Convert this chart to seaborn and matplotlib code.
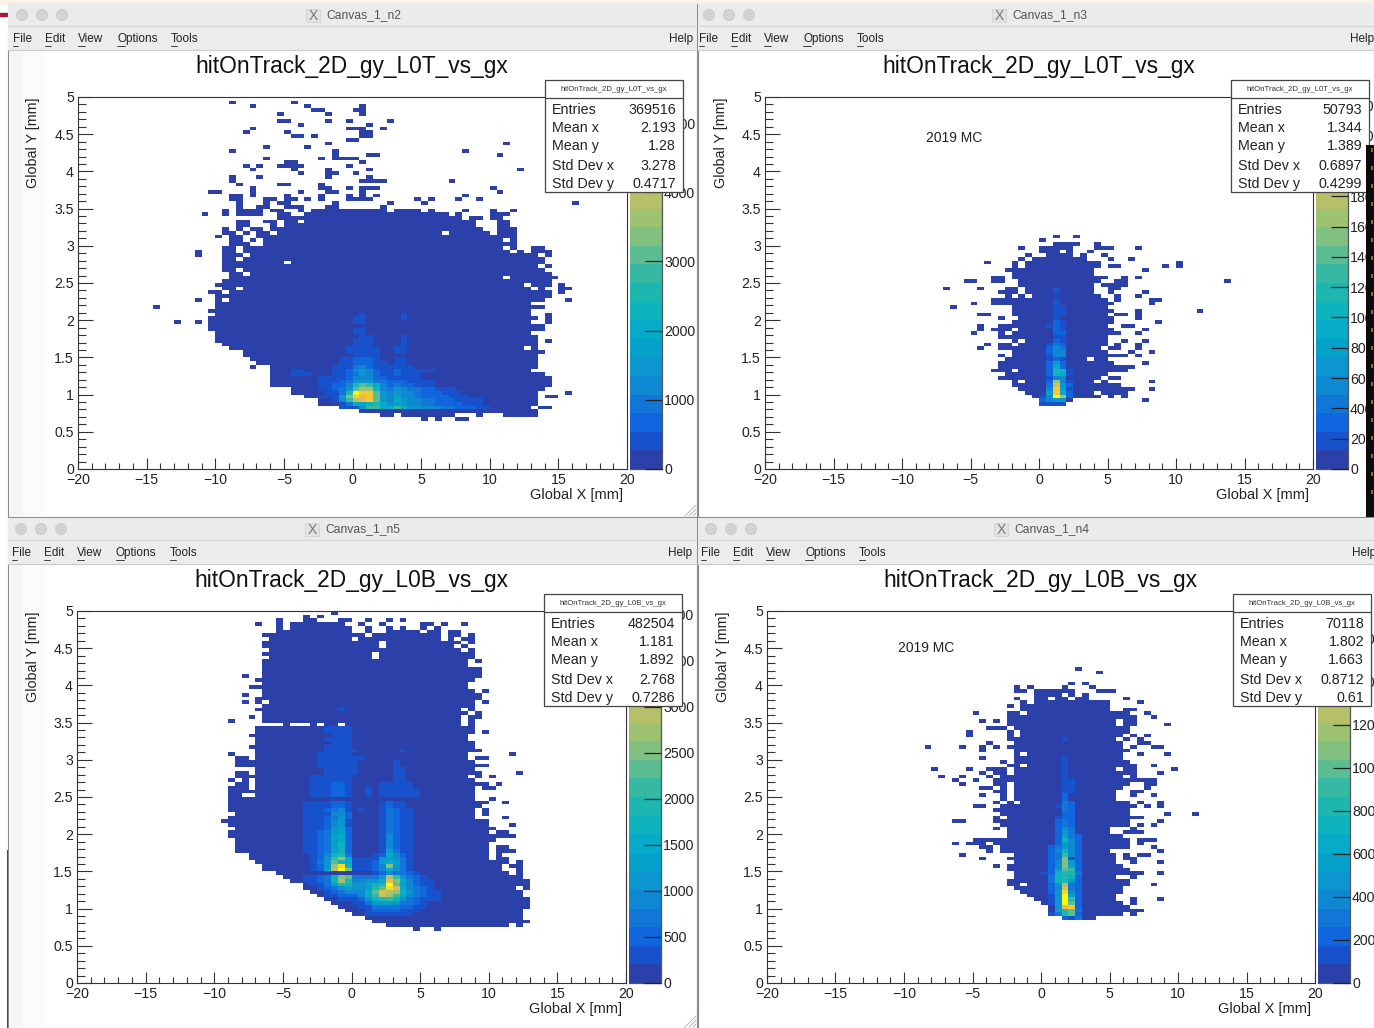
import matplotlib
matplotlib.use("Agg")
import matplotlib.pyplot as plt
import matplotlib.patches as mpatches
from matplotlib.colors import ListedColormap
from matplotlib.ticker import FixedLocator
import numpy as np
import seaborn as sns


# =========================
# Data: hit rows
# (y bin, [x start, x end, x start, x end ...]) in mm, bins are 0.5 mm x 0.05 mm
# =========================

ROWS_L0T_DATA = [
    (13, [5, 5.5, 6, 6.5, 7.5, 8.5]), (14, [2, 3, 3.5, 7.5, 9, 9.5, 11, 13.5]), (15, [0.5, 13.5]),
    (16, [-1, 13, 13.5, 14.5]), (17, [-2.5, 13.5]), (18, [-2.5, 13.5]), (19, [-3.5, 13.5, 14, 15]),
    (20, [-4.5, 13.5, 15.5, 16]), (21, [-4.5, 14]), (22, [-6, 14.5]), (23, [-6, 14.5]), (24, [-6, 14.5]),
    (25, [-6, 14]), (26, [-6, 13]), (27, [-7.5, -7, -6, 13.5]), (28, [-7, 13.5]), (29, [-7.5, 13.5]),
    (30, [-8, 13.5]), (31, [-8, 14]), (32, [-9, 12.5, 13, 13.5]), (33, [-9.5, 13.5]),
    (34, [-10, 13.5, 14, 14.5]), (35, [-10, 13.5]), (36, [-10, 13]), (37, [-10.5, 14]), (38, [-10.5, 14]),
    (39, [-13, -12.5, -11.5, -11, -10.5, 13, 14, 14.5]), (40, [-10.5, 13.5, 14, 14.5]),
    (41, [-10, 13, 14, 14.5]), (42, [-10.5, 13]), (43, [-14.5, -14, -10, 14]), (44, [-10, 13]),
    (45, [-11.5, -11, -10, -9.5, -9, 14, 15.5, 16]), (46, [-10, 14.5]),
    (47, [-10.5, -9.5, -9, 14.5, 15, 15.5]), (48, [-9.5, -8.5, -8, 13, 13.5, 14, 15, 16]),
    (49, [-10, 12.5, 13, 14.5, 15, 15.5]), (50, [-9.5, 14.5]), (51, [-9, 11, 11.5, 14.5, 14.5, 15]),
    (52, [-9, -8, -7.5, 14.5]), (53, [-9.5, -8.5, -8, 14]), (54, [-9.5, 13.5, 14, 14.5]),
    (55, [-9.5, -5, -4.5, 14]), (56, [-9.5, -8.5, -8, 14]), (57, [-11.5, -11, -9.5, -8, -7.5, 13.5, 14, 14.5]),
    (58, [-11.5, -11, -9.5, -8.5, -8, 11.5, 12, 12.5, 13, 14.5]), (59, [-9.5, -8.5, -8, 11, 11.5, 12, 13, 14]),
    (60, [-9, -7.5, -6.5, 12]), (61, [-9, -8, -7.5, -7, -6.5, 11, 11.5, 12]), (62, [-10, -9.5, -9, -8, -7, 12]),
    (63, [-9.5, -8.5, -8, -7.5, -7, -6, -5.5, 6.5, 7, 10, 10.5, 12]),
    (64, [-9.5, -9, -8.5, -8, -7.5, -6.5, -6, 9.5, 10.5, 12]), (65, [-8.5, -7.5, -6, -5.5, -5, 9, 10.5, 11.5]),
    (66, [-8.5, -7.5, -6.5, -5.5, -5, -4, -3.5, 9, 10.5, 11.5]),
    (67, [-5.5, 8, 8.5, 9.5, 10, 11]), (68, [-11, -10.5, -9.5, -9, -8.5, -6.5, -5.5, -4.5, -3.5, 7, 7.5, 8, 10, 11.5]),
    (69, [-9.5, -9, -8.5, -6.5, -6, -5, -4, -3.5, -3, 2.5, 3, 5, 5.5, 6, 8, 8.5, 10, 10.5, 11.5, 12]),
    (70, [-8.5, -8, -7, -6, -5, -3.5, -2, -1, 2, 2.5]), (71, [-8.5, -8, -6.5, -6, -5.5, -4.5, -1.5, -1, 2.5, 3, 5, 5.5, 16, 16.5]),
    (72, [-9, -8, -6.5, -5.5, -5, -4, -3.5, -3, -2.5, -2, -0.5, 1.5, 4.5, 5, 5.5, 6, 7.5, 8, 9, 9.5]),
    (73, [-9, -8, -7.5, -7, -5, -4.5, -2.5, -2, -0.5, 0, 0.5, 1, 1.5, 2, 8, 8.5]),
    (74, [-10.5, -9.5, -7.5, -7, -4, -3.5, -2, -1, 0.5, 1, 10.5, 11]),
    (75, [-7.5, -7, -2.5, -1.5, -0.5, 0, 0.5, 2, 10, 10.5]), (76, [-8.5, -8, -5.5, -4.5, -2.5, -2]),
    (77, [-9, -8.5, 0.5, 2.5, 7, 7.5]), (78, [-9, -8.5, -7, -6.5, -2, -1.5, 1, 1.5]),
    (79, [-4, -3.5, -2, -1, 0, 0.5]), (80, [-7.5, -7, -4.5, -4, -2, -1.5, 1, 1.5, 12, 12.5]),
    (81, [-8, -7.5, -7, -6.5, -5.5, -3.5, -0.5, 0]), (82, [-5, -4, 0.5, 1]),
    (83, [-6.5, -6, -2.5, -2, -1.5, 0.5]), (84, [-1.5, -1, 1, 2, 10.5, 11]),
    (85, [-9, -8.5, -1.5, -1, 8, 8.5]), (86, [-6.5, -6, -3.5, -3]), (87, [-2, -1.5, 11, 11.5]),
    (88, [-0.5, 0.5]), (89, [-4.5, -3.5, -3, -2.5, 0.5, 1.5]), (90, [-8, -7.5, -5, -4.5, 0.5, 1.5]),
    (91, [-7.5, -7, -0.5, 1, 2, 2.5]), (92, [-4, -3.5, 1, 1.5]),
    (93, [-5.5, -4.5, -2, -1.5, -0.5, 0, 2.5, 3]), (95, [-5.5, -5, -2, -1.5, 0.5, 1]),
    (96, [-3, -2, 0, 1]), (97, [-7.5, -7, -3.5, -3, 0.5, 1]), (98, [-9, -8.5, -4.5, -4]),
]

ROWS_L0T_MC = [
    (17, [0, 2]), (18, [0, 2.5, 7.5, 8]), (19, [-0.5, 4.5, 5, 5.5, 6, 6.5]), (20, [-1, 4, 4.5, 6.5]),
    (21, [-1.5, 7, 8, 8.5]), (22, [-2, 6, 6.5, 6.5]), (23, [-2, -1.5, -1, 4, 4.5, 5, 8, 8.5]),
    (24, [-3, -2, -2, 4.5, 5, 6]), (25, [-2.5, 5]), (26, [-3.5, -2, -1.5, 6.5]),
    (27, [-3, 7]), (28, [-3, 5.5, 7.5, 8]), (29, [-2.5, 3.5, 4, 5]), (30, [-3, -2.5, -2, 6.5, 7, 7.5]),
    (31, [-2, 5, 6.5, 7, 8, 8.5]), (32, [-4.5, -4, -3, -2, -2, 4.5, 5, 6, 7, 7.5]),
    (33, [-4, -3.5, -3, -2, -1.5, 5, 5.5, 6, 7, 7.5]), (34, [-2, -1.5, -1, 5, 6, 6.5, 7.5, 8]),
    (35, [-3, 5]), (36, [-5, -4.5, -3, -2.5, -2, 6, 7, 7.5]),
    (37, [-4.5, -4, -3.5, -2, -1.5, 5.5, 7.5, 8]), (38, [-4.5, -4, -3, 5, 6, 7]),
    (39, [-2, 5.5, 8.5, 9]), (40, [-3, -2.5, -1.5, 5.5, 7, 7.5]),
    (41, [-4.5, -3.5, -2, 5, 5.5, 6.5, 7, 7.5]), (42, [-2, 5.5, 7, 7.5, 11.5, 12]),
    (43, [-6.5, -6, -2, 5]), (44, [-5, -4.5, -3.5, 5.5, 8, 8.5]), (45, [-3.5, 5, 5.5, 6, 8, 9]),
    (46, [-2.5, -2, -1.5, -1, -0.5, 4.5, 5.5, 6, 7, 7.5]), (47, [-3, -1.5, -1, 4, 5, 5.5, 7.5, 8]),
    (48, [-7, -6.5, -4.5, -4, -2.5, -1.5, -1, 4, 5, 6]), (49, [-1.5, 4, 4.5, 6.5]),
    (50, [-5.5, -4.5, -3.5, -2.5, -1.5, 4.5, 5.5, 6.5, 13.5, 14]), (51, [-3.5, -2.5, -2, 5, 6, 6.5, 7, 7.5]),
    (52, [-2, 4]), (53, [-2.5, 4, 7.5, 8]), (54, [-2, -1.5, -1, 4.5, 5, 6, 9, 9.5, 10, 10.5]),
    (55, [-4, -3.5, -2, -1.5, -1, 4, 4, 4.5, 10, 10.5]), (56, [-1.5, -1, -0.5, 3.5, 5, 5.5, 6.5, 7]),
    (57, [-1, -0.5, 0.5, 2.5, 3, 3.5, 4.5, 5]), (58, [0, 1.5, 2, 2.5, 3.5, 4]),
    (59, [-1.5, -1, 0, 2.5, 4, 5.5, 7, 7.5]), (60, [1, 3, 4, 4.5]), (61, [0, 0.5]), (62, [1, 1.5, 2.5, 3]),
]

ROWS_L0B_DATA = [
    (14, [4.5, 5, 6, 6.5]), (15, [2.5, 11.5, 12, 12.5]), (16, [1.5, 13]), (17, [1, 12.5]),
    (18, [0, 12.5]), (19, [-0.5, 12.5]), (20, [-1, 13]), (21, [-1.5, 13]), (22, [-2, 13]),
    (23, [-2.5, 12.5]), (24, [-3, 12.5]), (25, [-3.5, 12, 12.5, 13]), (26, [-3.5, 13]), (27, [-4.5, 13]),
    (28, [-5, 12.5]), (29, [-5.5, 11.5, 12, 12.5]), (30, [-6.5, 11, 12, 12.5]), (31, [-6.5, 11, 11.5, 12.5]),
    (32, [-7, 11.5, 12, 12.5]), (33, [-7.5, 10, 10.5, 11.5]), (34, [-7.5, 10, 10.5, 11]),
    (35, [-8.5, 10, 10.5, 12]), (36, [-8.5, 10, 10.5, 11.5]), (37, [-8.5, 10]), (38, [-8.5, 10.5]),
    (39, [-9, 12]), (40, [-9, 10, 10.5, 11.5]), (41, [-8.5, 10.5]), (42, [-9, 10, 11.5, 12]),
    (43, [-9.5, 10]), (44, [-9, 9, 11, 11.5]), (45, [-8.5, 9, 9.5, 10]), (46, [-9, 9, 9.5, 10]),
    (47, [-9, 9.5]), (48, [-9, 10, 11, 11.5]), (49, [-9, 9, 10, 10.5]), (50, [-9, -8, -7, 9]),
    (51, [-9, 9]), (52, [-9, -7.5, -7, 9, 9.5, 10.5]), (53, [-8.5, -7.5, -7, 10, 10.5, 11]),
    (54, [-9, -8.5, -8, -7.5, -7, 9]), (55, [-8.5, -7, -7, 8.5, 9, 9.5, 10, 10.5]),
    (56, [-8.5, -7.5, -7, 9.5, 12, 12.5]), (57, [-7, 9]), (58, [-8.5, 10]), (59, [-8.5, 9]),
    (60, [-8.5, -7.5, -7, 8.5, 9, 10]), (61, [-9, -8.5, -7, 8.5, 11.5, 12]), (62, [-7, 9.5]),
    (63, [-7.5, 9]), (64, [-7, 9]), (65, [-7, 8.5]), (66, [-7.5, 8.5]), (67, [-7, 9, 9.5, 10]),
    (68, [-7, 9]), (69, [-5, -4.5, -3, -2.5, -2, -1, -0.5, 8, 8.5, 9]), (70, [-9, -8.5, -6.5, 8, 8.5, 9]),
    (71, [-7.5, -7, -6.5, 8, 8.5, 9.5]), (72, [-6.5, 8.5, 9, 9.5]), (73, [-7, 8, 8.5, 9]),
    (74, [-6.5, 9]), (75, [-8, -7.5, -7, -6.5, -6, 9, 9.5, 10]), (76, [-7, 9.5]), (77, [-8, -7.5, -6.5, 9.5]),
    (78, [-6.5, 9, 9.5, 10]), (79, [-7.5, 8.5]), (80, [-6.5, 8.5]), (81, [-7, 9]), (82, [-8, -7.5, -6.5, 9.5]),
    (83, [-6.5, 9.5]), (84, [-6.5, 9.5]), (85, [-6.5, 8.5]), (86, [-6.5, 8.5, 9, 9.5]), (87, [-6, 1.5, 2, 9]),
    (88, [-6.5, -6, -6, 1.5, 2, 9]), (89, [-6, 8, 8.5, 9]), (90, [-6.5, -6, -6, 2, 2.5, 7.5, 8, 8.5]),
    (91, [-6.5, 2, 2.5, 8, 8.5, 9]), (92, [-6, 0, 0.5, 6.5, 7, 7.5, 8, 9]),
    (93, [-6.5, 1, 1.5, 6.5, 7, 8, 8.5, 9]), (94, [-5.5, 0, 1, 1.5, 2.5, 5, 5.5, 6.5, 7, 8]),
    (95, [-5.5, -5, -4.5, 0, 1, 1.5, 2.5, 3, 3.5, 4, 5, 5.5, 6, 6.5]),
    (96, [-7, -6.5, -5.5, -5, -4.5, -0.5, 0.5, 1, 2, 2.5, 5, 6, 6.5, 7, 8, 8.5]),
    (97, [-5.5, -5, -3.5, -2.5, -1, 0, 1, 1.5, 2.5, 3, 3.5, 4]), (98, [-3.5, -3, -2.5, -2]), (99, [-1.5, -1]),
]

ROWS_L0B_MC = [
    (17, [1.5, 4]), (18, [1, 6, 6.5, 7]), (19, [0.5, 7.5]), (20, [0.5, 6.5]), (21, [0, 6, 6.5, 7]),
    (22, [-0.5, 5.5, 6.5, 7, 8.5, 9]), (23, [-1, 5.5]), (24, [-1.5, 6]), (25, [-2, 6]),
    (26, [-2.5, -1.5, -1, 6.5, 8, 8.5]), (27, [-2.5, 6.5]), (28, [-2, 5.5, 6.5, 7]),
    (29, [-2, 7.5, 8.5, 9]), (30, [-2.5, 6.5]), (31, [-3.5, -3, -2.5, 6]), (32, [-2, 5.5, 6.5, 7, 8.5, 9]),
    (33, [-4.5, -4, -2.5, 5.5, 6, 7]), (34, [-6, -5.5, -2, 5.5, 6, 6.5, 7, 8]),
    (35, [-4, -3.5, -3, 5, 8.5, 9]), (36, [-4.5, -3.5, -3, 6.5, 8, 8.5]), (37, [-6.5, -6, -5.5, -4, -3.5, 6.5, 7, 7.5]),
    (38, [-5, -2.5, -2.5, 6.5, 7, 8.5]), (39, [-2.5, 6]), (40, [-2.5, 5, 6, 7.5]), (41, [-3.5, -3, -2.5, 5, 6.5, 7]),
    (42, [-3, 6.5, 7, 7.5, 8, 8.5]), (43, [-6.5, -5.5, -3.5, -3, -3, 6.5, 8.5, 9]), (44, [-3.5, -3, -2.5, 7.5]),
    (45, [-3, -2.5, -2.5, 6.5, 9, 9.5, 11, 11.5]), (46, [-3.5, -3, -3, 6.5]), (47, [-5, -4, -3, 7, 7.5, 8, 8.5, 9]),
    (48, [-3.5, -3, -2.5, -2, -1.5, 6.5, 7, 7.5, 8.5, 9]), (49, [-3, -2.5, -2, 5.5]),
    (50, [-4.5, -4, -3, -2.5, -2, -1.5, -1.5, 5.5, 6.5, 7, 8, 8.5]), (51, [-3.5, -2.5, -2, 5.5, 6.5, 7.5]),
    (52, [-4.5, -3.5, -3, -2.5, -2, 6, 7.5, 8]), (53, [-6, -5.5, -3.5, -2.5, -2, 6.5, 7.5, 8.5]),
    (54, [-6.5, -6, -5, -4.5, -3.5, 7.5, 7.5, 8.5]), (55, [-7.5, -7, -6, -5.5, -4, -3.5, -3, 6, 6.5, 7]),
    (56, [-4.5, -4, -3.5, -2.5, -2, 7, 8.5, 9]), (57, [-8, -7.5, -5.5, -5, -4, -2.5, -2, 5.5, 6, 7, 9.5, 10]),
    (58, [-2.5, -1.5, -1, 7, 8, 8.5]), (59, [-3, -2.5, -2, 6.5]), (60, [-4.5, -4, -2, 6]),
    (61, [-2, -1.5, -1, 6, 7, 7.5, 9, 9.5]), (62, [-4.5, -4, -2, 6.5]),
    (63, [-8.5, -8, -6, -5.5, -4.5, -4, -3.5, -3, -2.5, 6, 6.5, 7, 8, 9]), (64, [-4, -3.5, -2, 6, 7, 8]),
    (65, [-2.5, 5.5, 6, 6.5, 7, 7.5]), (66, [-5.5, -5, -2.5, -2, -1.5, 6, 6.5, 7, 7.5, 8]),
    (67, [-5.5, -5, -2.5, -2, -1.5, 6.5]), (68, [-4, -2.5, -2, 6.5]), (69, [-2.5, -2, -2, 5.5, 6, 7, 9, 9.5]),
    (70, [-4.5, -4, -3.5, -3, -2.5, 5.5, 6, 7]), (71, [-2.5, 6, 6, 7, 8, 8.5]),
    (72, [-5, -4.5, -2.5, -1.5, -1, 6.5, 7.5, 8]), (73, [-1.5, 5, 6, 7]), (74, [-2.5, -2, -1.5, 5]),
    (75, [-1.5, -1, -0.5, 5, 7, 7.5]), (76, [-2, -1.5, -0.5, 0.5, 1, 2, 2.5, 3.5, 6, 6.5]),
    (77, [-0.5, 1.5, 2, 2.5, 3, 3.5]), (78, [-2, -1, -0.5, 2.5, 4, 5.5]),
    (79, [-2, -1.5, -1, -0.5, 1.5, 2, 3.5, 4]), (80, [2, 2.5, 3, 3.5]), (83, [4, 4.5]), (84, [2.5, 3]),
]

# =========================
# Data: bins above the lowest colour band
# (y bin, first x in mm, counts per x bin)
# =========================

HOT_L0T_DATA = [
    (16, -1, [300, 400, 500, 1500, 2700, 2800, 2100, 2000, 2700, 2000, 1500, 1500, 1300, 1300, 1100, 1000, 900, 800, 600, 600, 500, 500]),
    (17, -1, [400, 1000, 1900, 1800, 2200, 2600, 1900, 1500, 1800, 1400, 1200, 1100, 1000, 1000, 800, 800, 700, 700, 500, 500, 300]),
    (18, -2.5, [200, 200, 300, 1300, 2900, 4000, 4500, 4600, 3200, 1600, 1300, 2000, 1500, 1300, 1100, 1000, 900, 800, 800, 600, 500, 500, 400, 300]),
    (19, -2.5, [300, 300, 400, 1400, 3400, 4800, 4500, 4600, 3000, 1500, 1200, 1700, 1300, 1200, 1000, 800, 700, 700, 600, 500, 400, 300]),
    (20, -2, [300, 500, 1000, 2500, 5300, 4600, 4600, 3200, 1400, 1100, 1600, 1300, 1100, 900, 800, 700, 600, 500, 400, 300]),
    (21, -2.5, [300, 500, 700, 900, 1600, 3000, 3600, 3500, 2400, 1300, 1000, 1500, 1300, 1000, 900, 800, 700, 500, 400, 300]),
    (22, -3, [200, 400, 500, 600, 700, 1100, 2600, 3000, 2800, 2000, 1200, 800, 900, 800, 700, 500, 400, 300]),
    (23, -3, [200, 300, 400, 400, 600, 900, 1500, 1600, 1400, 1000, 900, 600, 700, 600, 500, 400, 400, 300, 200]),
    (24, -3.5, [200, 250, 300, 300, 300, 400, 700, 1100, 1300, 1100, 800, 600, 500, 500, 500, 400, 300, 200]),
    (25, -4.5, [300, 300, 300, 150, 150, 200, 300, 500, 600, 1000, 1400, 1200, 700, 500, 400, 600, 400, 300, 300, 200, 200]),
    (26, -4.5, [300, 300, 150, 150, 150, 200, 300, 400, 600, 1100, 1500, 1200, 700, 500, 300, 600, 300, 300, 300, 300, 300]),
    (27, -2, [200, 300, 400, 500, 900, 1100, 800, 500, 300, 300, 300, 400, 300]),
    (28, -1, [300, 500, 800, 800, 700, 400, 300, 150, 300, 400]),
    (29, -1, [300, 400, 600, 700, 600, 300, 150, 150, 300, 300]),
    (30, 0, [400, 400, 500, 300]),
    (31, -0.5, [300, 300, 500, 300, 300, 150, 150, 300, 300]),
    (32, -0.5, [300, 300, 400, 300, 300, 150, 150, 300, 300]),
    (33, 0, [300, 300, 300, 150, 150, 150, 150, 300]),
    (34, 0, [300, 400, 300, 150, 150, 150, 150, 300]),
    (35, 0.5, [300, 300, 150, 150, 150, 150, 300]),
    (36, 0, [300, 300]), (37, 0, [300, 300]), (39, 0, [300, 300]),
    (40, 0, [300, 300, 150, 150, 150, 150, 150, 300]), (41, 0.5, [300]),
    (41, 3.5, [300]),
]

HOT_L0T_MC = [
    (17, 0, [200, 200, 200, 200]), (18, 0, [250, 500, 700, 700, 100]), (19, 0, [200, 600, 2450, 1700, 300]),
    (20, 0.5, [800, 2200, 900, 300]), (21, 0.5, [500, 2100, 800, 200]), (22, 0.5, [400, 1900, 700, 300]),
    (23, 0.5, [300, 1600, 600, 200]), (24, 0.5, [150, 500, 500]), (25, 0.5, [300, 1100, 900, 200]),
    (26, 0.5, [300, 1200, 1000, 200]), (27, 0.5, [300, 900, 300]), (28, 0.5, [300, 800, 300]),
    (29, 0.5, [200, 300, 200]), (30, 0.5, [200, 500, 500]), (31, 0.5, [300, 600, 500]),
    (32, 0.5, [300, 500, 400]), (33, 0.5, [200, 400, 250]), (34, 1, [300, 200]), (35, 1, [200, 200]),
    (36, 1, [250, 250]), (37, 1, [250, 200]), (38, 0.5, [150, 250, 200]), (39, 1, [250, 200]), (40, 1, [200]),
    (41, 1, [180, 150]), (42, 1, [180, 150]), (43, 1, [150, 150]), (44, 1, [150]), (45, 1, [150]),
    (47, 1, [150]), (48, 1, [150]),
]

HOT_L0B_DATA = [
    (17, 3.5, [200, 200]),
    (18, 1, [300, 400, 400, 400, 300, 300, 300, 200]),
    (19, 0.5, [200, 300, 500, 500, 500, 500, 400, 300, 300]),
    (20, 0, [200, 300, 400, 700, 700, 800, 700, 500, 500, 400, 300]),
    (21, -0.5, [200, 250, 350, 700, 1100, 1300, 1300, 1100, 800, 700, 500, 300]),
    (22, -1.5, [200, 300, 350, 400, 600, 1100, 1800, 2000, 2200, 1700, 1100, 800, 600, 400, 300, 300]),
    (23, -2, [250, 300, 500, 500, 600, 900, 1500, 2100, 3200, 2800, 2200, 1500, 1000, 700, 500, 400, 300]),
    (24, -2, [300, 500, 800, 1000, 900, 1000, 1600, 2400, 3300, 3000, 2700, 1800, 1100, 700, 500, 400, 300]),
    (25, -2.5, [300, 500, 800, 1100, 1400, 1100, 1100, 1300, 1900, 2300, 3700, 3200, 1600, 1000, 700, 500, 300, 200]),
    (26, -3, [300, 400, 800, 1300, 1900, 1700, 1200, 1200, 1300, 1700, 1900, 4040, 2400, 1400, 900, 600, 400, 300, 200]),
    (27, -3.5, [300, 300, 500, 800, 1800, 2800, 2000, 1000, 1000, 1200, 1200, 1500, 3300, 2500, 1600, 900, 600, 400, 300]),
    (28, -4, [200, 300, 300, 500, 700, 1700, 2500, 2400, 800, 800, 700, 800, 1200, 3000, 2100, 1100, 800, 500, 300, 200]),
    (29, 1.5, [300, 600, 900, 800, 700, 500, 300]),
    (30, -3, [300, 500, 1300, 3000, 4040, 2600, 300, 300, 300, 500, 900, 1600, 1200, 700, 400]),
    (31, -3, [300, 500, 1100, 2700, 3800, 1700, 300, 300, 300, 500, 900, 2600, 1100, 700, 400]),
    (32, -3, [300, 700, 1200, 2300, 1800, 1500, 300, 300, 300, 500, 1400, 1600, 1300, 800, 400]),
    (33, -3, [300, 600, 1200, 2200, 2700, 1500, 300, 300, 300, 300, 1100, 1400, 1200, 800, 300]),
    (34, -3, [300, 500, 1000, 1700, 2000, 800, 200, 200, 200, 300, 500, 1500, 900, 500, 300]),
    (35, -3.5, [300, 300, 500, 800, 1400, 1700, 600, 100, 100, 100, 200, 400, 1400, 700, 400, 300]),
    (36, -3.5, [300, 300, 500, 800, 1400, 1700, 600, 100, 100, 100, 100, 300, 1000, 600, 300, 300]),
    (37, -3.5, [300, 300, 500, 800, 1400, 1700, 600, 100, 100, 100, 100, 300, 1000, 600, 300, 300]),
    (38, -3.5, [300, 300, 500, 800, 1300, 1600, 600, 100, 100, 100, 200, 300, 1000, 600, 300, 300]),
    (39, -3.5, [300, 300, 500, 800, 1300, 1500, 600, 100, 100, 100, 100, 300, 1000, 600, 300, 300]),
    (40, -3.5, [300, 300, 500, 700, 1200, 1400, 500, 100, 100, 100, 100, 300, 800, 500, 300, 300]),
    (41, -3.5, [300, 300, 400, 600, 1100, 1300, 500, 100, 100, 100, 100, 300, 800, 500, 300, 300]),
    (42, -3.5, [300, 300, 400, 500, 900, 1200, 400, 100, 100, 100, 100, 300, 800, 500, 300, 300]),
    (43, -3.5, [300, 300, 400, 500, 900, 1100, 400, 100, 100, 100, 100, 300, 700, 450, 300, 300]),
    (44, -3.5, [300, 300, 400, 500, 800, 1100, 500, 100, 100, 100, 100, 300, 700, 450, 300, 300]),
    (45, -3.5, [300, 300, 300, 400, 900, 1000, 500, 100, 100, 100, 100, 300, 700, 450, 300, 300]),
    (46, -3.5, [300, 300, 300, 500, 800, 1000, 300, 100, 300, 100, 100, 300, 700, 450, 300, 300]),
    (47, -3.5, [300, 300, 300, 400, 500, 500, 300, 100, 100, 100, 100, 250, 500, 350, 300]),
    (48, -3.5, [300, 300, 300, 400, 500, 500, 300, 100, 100, 100, 100, 250, 500, 350, 300]),
    (50, -3, [300, 300, 400, 500, 500, 400, 100, 100, 300, 100, 300, 300, 400, 350, 300, 300]),
    (51, -3, [300, 300, 400, 500, 500, 400, 100, 100, 300, 100, 300, 300, 400, 350, 300, 300]),
    (52, -3, [300, 300, 400, 500, 500, 400, 100, 100, 300, 100, 300, 300, 400, 350, 300]),
    (53, -3, [300, 300, 400, 500, 500, 400, 100, 100, 100, 100, 300, 300, 400, 350, 300]),
    (54, -3, [300, 300, 300, 300, 400, 300, 100, 100, 100, 100, 100, 100, 300, 400]),
    (55, -3, [300, 300, 300, 400, 400, 300, 100, 100, 100, 100, 100, 100, 400, 300]),
    (56, -2, [300, 400, 400, 400, 300, 100, 100, 100, 100, 100, 400, 300]),
    (57, -2, [300, 400, 400, 400, 300, 100, 100, 100, 100, 100, 400, 300]),
    (58, -2.5, [300, 300, 300, 400, 300, 300, 100, 100, 100, 100, 100, 300]),
    (59, -2.5, [300, 300, 300, 300, 300, 300, 100, 100, 100, 100, 100, 300]),
    (60, -2.5, [300, 300, 300, 300, 300, 300, 300]),
    (61, -2.5, [300, 300, 300, 300, 300]),
    (62, -2, [300, 300, 300, 300, 300, 100, 100, 100, 100, 100, 100, 300]),
    (63, -2, [300, 300, 300, 300]), (64, -1.5, [300, 300, 300]), (65, -2, [300, 300, 300, 300]),
    (66, -1.5, [300, 300, 300]), (67, -2, [300, 300, 300, 300]), (68, -2, [300, 300, 300, 300]),
    (73, -1, [300]),
]

HOT_L0B_MC = [
    (17, 1.5, [200, 150, 300]), (18, 0.5, [100, 300, 800, 1000, 250]), (19, 1, [550, 850, 1000, 300]),
    (20, 1, [500, 1400, 1500, 200]), (21, 0.5, [150, 500, 1730, 1000, 200]), (22, 0.5, [100, 500, 1730, 900, 200]),
    (23, 0.5, [150, 500, 1730, 600, 200]), (24, 0.5, [250, 500, 1600, 400, 200]), (25, 0.5, [200, 400, 1300, 300, 200]),
    (26, 0.5, [250, 500, 1200, 300, 200]), (27, 0.5, [300, 700, 800, 500, 200]), (28, 0.5, [300, 700, 800, 700, 200]),
    (29, 0, [150, 250, 700, 800, 800, 300]), (30, 0.5, [200, 500, 1000, 900, 200]), (31, 0.5, [200, 400, 1100, 600, 200]),
    (32, 0.5, [200, 400, 1100, 500, 200]), (33, 0.5, [200, 300, 1100, 100, 200]), (34, 0.5, [200, 300, 900, 400, 200]),
    (35, 0.5, [200, 400, 700, 400, 200]), (36, 0.5, [200, 300, 500, 400, 200]), (37, 1, [200, 600, 400, 200]),
    (38, 1, [200, 700, 400, 200]), (39, 1, [200, 600, 300, 200]), (40, 1, [200, 500, 300]), (41, 1, [200, 400, 300]),
    (42, 1, [200, 300, 250]), (43, 1, [200, 300, 250]), (44, 1, [150, 250, 200]), (45, 1.5, [250, 200]),
    (46, 1.5, [300, 200]), (47, 1, [150, 300, 200]), (48, 1.5, [300, 200]), (49, 1.5, [250]), (50, 1.5, [200]),
    (51, 1.5, [170, 170]), (52, 1.5, [170, 170]), (53, 1.5, [170, 170]), (54, 1.5, [170, 170]), (55, 1.5, [150]),
    (56, 1.5, [150]), (57, 1.5, [150]), (58, 1.5, [150]), (59, 1.5, [150]), (60, 1.5, [150]), (65, 1.5, [130]),
]

# colour axis top and value of the lowest band
ZMAX = [5376, 2455, 4043, 1730]
LOW = [130, 60, 100, 40]

TICKS_Z = [
    [0, 1000, 2000, 3000, 4000, 5000],
    [0, 200, 400, 600, 800, 1000, 1200, 1400, 1600, 1800, 2000, 2200, 2400],
    [0, 500, 1000, 1500, 2000, 2500, 3000, 3500, 4000],
    [0, 200, 400, 600, 800, 1000, 1200, 1400, 1600],
]

TITLES = [
    "hitOnTrack_2D_gy_L0T_vs_gx", "hitOnTrack_2D_gy_L0T_vs_gx",
    "hitOnTrack_2D_gy_L0B_vs_gx", "hitOnTrack_2D_gy_L0B_vs_gx",
]
CANVAS_NAMES = ["Canvas_1_n2", "Canvas_1_n3", "Canvas_1_n5", "Canvas_1_n4"]

ENTRIES = ["369516", "50793", "482504", "70118"]
MEAN_X = ["2.193", "1.344", "1.181", "1.802"]
MEAN_Y = ["1.28", "1.389", "1.892", "1.663"]
STD_X = ["3.278", "0.6897", "2.768", "0.8712"]
STD_Y = ["0.4717", "0.4299", "0.7286", "0.61"]
STAT_NAMES = ["Entries", "Mean x", "Mean y", "Std Dev x", "Std Dev y"]

X_LABELS = ["\u221220", "\u221215", "\u221210", "\u22125", "0", "5", "10", "15", "20"]
Y_LABELS = ["0", "0.5", "1", "1.5", "2", "2.5", "3", "3.5", "4", "4.5", "5"]
MENU = ["File", "Edit", "View", "Options", "Tools"]


# =========================
# Layout, in pixels of the screenshot
# =========================

W, H = 1374, 1028

# window left, top, right, bottom
WINDOWS = [(8, 4, 697, 517), (698, 4, 1374, 517), (8, 518, 697, 1028), (698, 518, 1374, 1028)]
# plot frame left, top, right, bottom
FRAMES = [(78, 97, 627, 469), (765, 97, 1313, 469), (77, 611, 626, 983), (767, 611, 1315, 983)]
STAT_BOX = [(545, 80), (1231, 80), (544, 594), (1233, 594)]
MENU_X = [13, 699, 12, 701]
HELP_X = [693, 1374, 692, 1376]
LIGHT_X = [22, 709, 21, 711]
ICON_X = [306, 992, 305, 994]

# colour bands, bottom to top
BANDS = [
    "#2b40a9", "#1751cc", "#0f66de", "#1276d8", "#0f88d2", "#0b96cf", "#05a1cb",
    "#05abc8", "#0fb3bd", "#1db7b0", "#35b9a2", "#5cbc92", "#82c080", "#9dc272",
    "#b7bf68", "#d4bd5c", "#e8bd45", "#f5c835", "#f5dd20", "#f9fb0e",
]
bird_20 = ListedColormap(BANDS)

sns.set_theme(style="white")
plt.rcParams["font.family"] = ["Liberation Sans", "DejaVu Sans"]

TEXT = "#222222"


def px_axes(box, zorder):
    left, top, right, bottom = box
    return fig.add_axes(
        [left / W, 1 - bottom / H, (right - left) / W, (bottom - top) / H],
        zorder=zorder
    )


def full_axes(zorder):
    a = px_axes((0, 0, W, H), zorder)
    a.set_xlim(0, W)
    a.set_ylim(H, 0)
    a.axis("off")
    a.patch.set_alpha(0)
    return a


def build_hist(rows, hot, low):
    z = np.full((100, 80), np.nan)
    for j, edges in rows:
        for x0, x1 in zip(edges[0::2], edges[1::2]):
            z[j, int((x0 + 20) * 2):int((x1 + 20) * 2)] = low
    for j, x0, counts in hot:
        i0 = int((x0 + 20) * 2)
        z[j, i0:i0 + len(counts)] = counts
    return z


fig = plt.figure(figsize=(W / 100, H / 100), dpi=100, facecolor="white")

# desktop behind the windows
desk = full_axes(0)
desk.add_patch(mpatches.Rectangle((0, 0), W, 4, color="#f8f3e6"))
desk.add_patch(mpatches.Rectangle((0, 13), 7, 3, color="#a6192e"))

all_rows = [ROWS_L0T_DATA, ROWS_L0T_MC, ROWS_L0B_DATA, ROWS_L0B_MC]
all_hot = [HOT_L0T_DATA, HOT_L0T_MC, HOT_L0B_DATA, HOT_L0B_MC]


# =========================
# Draw the four windows
# =========================

for n in range(4):

    base = 10 * (n + 1)
    left, top, right, bottom = WINDOWS[n]
    fl, ft, fr, fb = FRAMES[n]

    # window
    back = full_axes(base)
    back.add_patch(mpatches.Rectangle((left, top), right - left, bottom - top, fc="white", ec="#8a8a8a", lw=0.8))
    if n in (0, 2):
        back.add_patch(mpatches.Rectangle((left + 1, top + 46), 36, bottom - top - 46, fc="#fbfbfb", ec="none"))
        back.add_patch(mpatches.Rectangle((left + 1, top + 46), 14, bottom - top - 46, fc="#f5f5f5", ec="none"))
    back.add_patch(mpatches.Rectangle((left, top), right - left, 22, fc="#ebebeb", ec="none"))
    back.add_patch(mpatches.Rectangle((left, top + 22), right - left, 24, fc="#ececec", ec="none"))
    back.plot([left, right], [top + 46, top + 46], color="#cccccc", lw=0.8)
    back.plot([left, right], [top + 22, top + 22], color="#d4d4d4", lw=0.8)
    if n == 2:
        back.add_patch(mpatches.Rectangle((6.5, 850), 1.5, 178, fc="#4a3f80", ec="none"))

    for k in range(3):
        back.add_patch(mpatches.Circle((LIGHT_X[n] + 20 * k, top + 11), 5.5, fc="#d3d3d3", ec="#c4c4c4", lw=0.5))

    icon = ICON_X[n]
    back.add_patch(mpatches.Rectangle((icon, top + 5), 14, 13, fc="#e2e2e2", ec="#cfcfcf", lw=0.5))
    back.text(icon + 7, top + 12, "X", ha="center", va="center", fontsize=10, color="#777777")
    back.text(icon + 20, top + 11.5, CANVAS_NAMES[n], ha="left", va="center", fontsize=8.7, color="#555555")

    # menu
    menu_x = MENU_X[n]
    steps = [0, 32, 65, 104, 158]
    widths = [5, 6, 7, 8, 6]
    for k, item in enumerate(MENU):
        back.text(menu_x + steps[k], top + 35, item, ha="left", va="center", fontsize=8.5, color="#222222")
        back.plot([menu_x + steps[k], menu_x + steps[k] + widths[k]], [top + 41.5, top + 41.5], color="#222222", lw=0.6)
    back.text(HELP_X[n], top + 35, "Help", ha="right", va="center", fontsize=8.5, color="#222222")

    # histogram
    z = build_hist(all_rows[n], all_hot[n], LOW[n])

    ax = px_axes(FRAMES[n], base + 1)
    cax = px_axes((fr + 3, ft, fr + 35, fb), base + 1)

    sns.heatmap(
        z,
        ax=ax,
        cmap=bird_20,
        vmin=0,
        vmax=ZMAX[n],
        cbar_ax=cax,
        cbar_kws={"ticks": TICKS_Z[n]},
        xticklabels=False,
        yticklabels=False,
    )

    ax.set_axisbelow(False)
    ax.set_xlim(0, 80)
    ax.set_ylim(0, 100)
    ax.xaxis.set_major_locator(FixedLocator(range(0, 81, 10)))
    ax.xaxis.set_minor_locator(FixedLocator(range(0, 81, 2)))
    ax.yaxis.set_major_locator(FixedLocator(range(0, 101, 10)))
    ax.yaxis.set_minor_locator(FixedLocator(range(0, 101, 2)))
    ax.set_xticklabels(X_LABELS)
    ax.set_yticklabels(Y_LABELS)
    ax.tick_params(axis="x", which="major", direction="in", length=8, width=0.8, color="#333333",
                   labelsize=10.2, pad=3, labelcolor=TEXT, bottom=True, top=False)
    ax.tick_params(axis="x", which="minor", direction="in", length=4.2, width=0.8, color="#333333",
                   bottom=True, top=False)
    ax.tick_params(axis="y", which="major", direction="in", length=11, width=0.8, color="#333333",
                   labelsize=10.2, pad=3, labelcolor=TEXT, left=True, right=False)
    ax.tick_params(axis="y", which="minor", direction="in", length=5.5, width=0.8, color="#333333",
                   left=True, right=False)
    ax.set_xlabel("")
    ax.set_ylabel("")
    for spine in ax.spines.values():
        spine.set_visible(True)
        spine.set_color("#333333")
        spine.set_linewidth(0.8)

    cax.set_axisbelow(False)
    cax.tick_params(axis="y", which="major", direction="in", length=12, width=0.9, color="#222222",
                    labelsize=10.2, pad=1.5, labelcolor=TEXT, right=True, left=False)
    cax.yaxis.set_ticks_position("right")
    for side in ("left", "top"):
        cax.spines[side].set_visible(False)
    for side in ("right", "bottom"):
        cax.spines[side].set_visible(True)
        cax.spines[side].set_color("#555555")
        cax.spines[side].set_linewidth(0.9)

    # text and stat box on top of the plot
    over = full_axes(base + 2)
    over.text((fl + fr) / 2 - 0.5, ft - 31, TITLES[n], ha="center", va="center", fontsize=16.35, color="#111111")
    over.text(fr - 4, fb + 26.5, "Global X [mm]", ha="right", va="center", fontsize=10.5, color=TEXT)
    over.text(fl - 45 + 0.5, ft, "Global Y [mm]", ha="center", va="top", rotation=90, fontsize=10.3, color=TEXT)

    sx, sy = STAT_BOX[n]
    over.add_patch(mpatches.Rectangle((sx, sy), 138, 112, fc="white", ec="#444444", lw=0.9))
    over.plot([sx, sx + 138], [sy + 18, sy + 18], color="#444444", lw=0.9)
    over.text(sx + 69, sy + 9.5, TITLES[n], ha="center", va="center", fontsize=5.6, color="#333333")
    values = [ENTRIES[n], MEAN_X[n], MEAN_Y[n], STD_X[n], STD_Y[n]]
    offsets = [30, 48, 66, 86, 104]
    for k in range(5):
        over.text(sx + 7, sy + offsets[k], STAT_NAMES[k], ha="left", va="center", fontsize=10.3, color=TEXT)
        over.text(sx + 131, sy + offsets[k], values[k], ha="right", va="center", fontsize=10.3, color=TEXT)

    # resize grip on the left windows
    if n in (0, 2):
        for k in (4, 8, 12):
            over.plot([right - k, right - 1], [bottom - 1, bottom - k], color="#aaaaaa", lw=0.6)

    # note on the simulation plots, terminal edge behind the top right window
    if n == 1:
        over.text(926, 138, "2019 MC", ha="left", va="center", fontsize=10, color=TEXT)
        over.add_patch(mpatches.Rectangle((1366, 145), 8, 372, fc="#0c0c0c", ec="none"))
        over.plot([1372] * 20, list(range(150, 507, 18)) [:20], ls="none", marker="|", ms=3, mew=1.2, color="#a87f18")
    if n == 3:
        over.text(898, 648, "2019 MC", ha="left", va="center", fontsize=10, color=TEXT)

fig.savefig("out.png", dpi=100)
